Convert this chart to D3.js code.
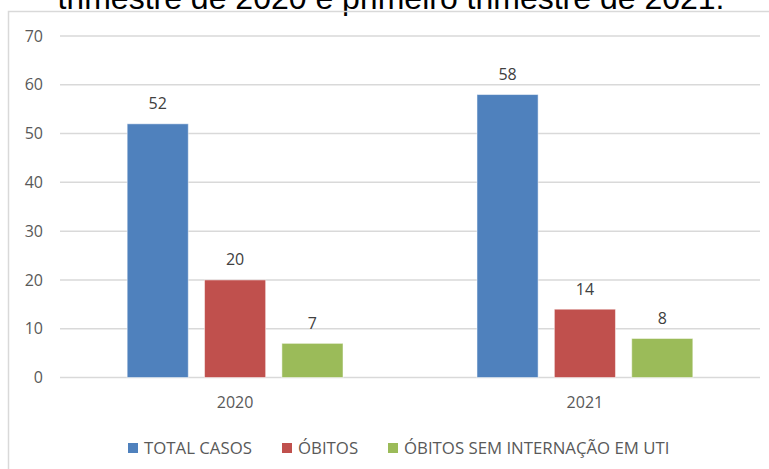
<!DOCTYPE html>
<html><head><meta charset="utf-8">
<script src="https://cdn.jsdelivr.net/npm/d3@7"></script>
<style>body{margin:0;background:#fff;overflow:hidden}svg{display:block}</style>
</head><body>
<svg id="c" width="769" height="469"></svg>
<script>
const categories = ["2020", "2021"];
const seriesNames = ["TOTAL CASOS", "ÓBITOS", "ÓBITOS SEM INTERNAÇÃO EM UTI"];
const totalCasos = [52, 58];
const obitos = [20, 14];
const obitosSemUti = [7, 8];
const yTicks = [0, 10, 20, 30, 40, 50, 60, 70];
const colors = ["#4F81BD", "#C0504D", "#9BBB59"];
const titleText = "trimestre de 2020 e primeiro trimestre de 2021.";

const series = [totalCasos, obitos, obitosSemUti];
const svg = d3.select("#c");
const font = "'Open Sans', 'Liberation Sans', sans-serif";

// title (cropped at top)
svg.append("text").attr("x", 391).attr("y", 9).attr("text-anchor", "middle")
  .attr("font-family", "'Liberation Sans', Arial, sans-serif").attr("font-size", 32)
  .attr("fill", "#000").text(titleText);

// chart border
svg.append("path").attr("d", "M8.5,480 V11.5 H780").attr("fill", "none")
  .attr("stroke", "#d9d9d9").attr("stroke-width", 1.5);

const x0 = d3.scaleBand().domain(categories).range([60, 760]).paddingInner(0.383).paddingOuter(0.192);
const x1 = d3.scaleBand().domain(d3.range(3)).range([0, x0.bandwidth()]).paddingInner(0.21);
const y = d3.scaleLinear().domain([0, 70]).range([377.5, 36]);

// gridlines
svg.append("g").selectAll("line").data(yTicks).join("line")
  .attr("x1", 60).attr("x2", 760).attr("y1", d => y(d)).attr("y2", d => y(d))
  .attr("stroke", "#d9d9d9").attr("stroke-width", 1.5);

// y labels
const yAxis = d3.axisLeft(y).tickValues(yTicks).tickSize(0).tickPadding(0);
const ya = svg.append("g").attr("transform", "translate(43,0)").call(yAxis);
ya.select(".domain").remove();
ya.selectAll("text").attr("font-family", font).attr("font-size", 16).attr("fill", "#595959");

// x labels
const xAxis = d3.axisBottom(x0).tickSize(0).tickPadding(0);
const xa = svg.append("g").attr("transform", "translate(0,397)").call(xAxis);
xa.select(".domain").remove();
xa.selectAll("text").attr("font-family", font).attr("font-size", 16).attr("fill", "#595959");

// bars
categories.forEach((c, ci) => {
  series.forEach((s, si) => {
    const xb = x0(c) + x1(si);
    svg.append("rect").attr("x", xb).attr("y", y(s[ci]))
      .attr("width", x1.bandwidth()).attr("height", y(0) - y(s[ci]))
      .attr("fill", colors[si]).attr("stroke", "#fff").attr("stroke-opacity", 0.5).attr("stroke-width", 1);
    svg.append("text").attr("x", xb + x1.bandwidth() / 2).attr("y", y(s[ci]) - 14.5)
      .attr("text-anchor", "middle").attr("font-family", font).attr("font-size", 16)
      .attr("fill", "#404040").text(s[ci]);
  });
});

// legend
const legendX = [128, 282, 388];
seriesNames.forEach((n, i) => {
  svg.append("rect").attr("x", legendX[i]).attr("y", 443).attr("width", 10).attr("height", 10).attr("fill", colors[i]);
  svg.append("text").attr("x", legendX[i] + 16).attr("y", 454)
    .attr("font-family", font).attr("font-size", 16.8).attr("fill", "#595959").text(n);
});
</script>
</body></html>
